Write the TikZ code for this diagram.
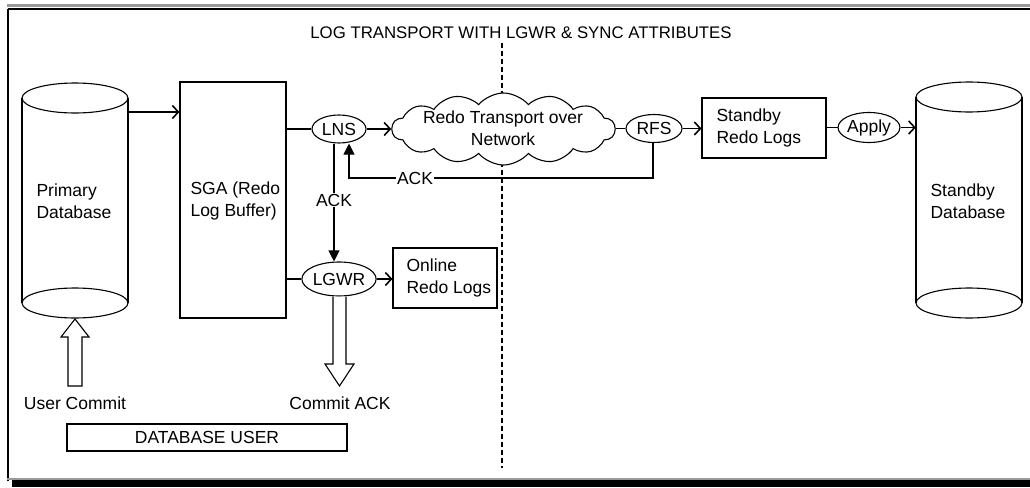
\documentclass[tikz,border=0pt]{standalone}
\usepackage{fontspec}
\setmainfont{Liberation Sans}
\usetikzlibrary{arrows.meta,shapes.geometric,shapes.symbols,calc}
\begin{document}
\begin{tikzpicture}[x=1pt,y=-1pt,
  every node/.style={font=\fontsize{17.5}{22}\selectfont},
  thin line/.style={line width=1.1pt},
  oarrow/.style={thin line,-{Straight Barb[length=6pt,width=13pt,line width=1.6pt]}},
  farrow/.style={thin line,-{Triangle[length=11pt,width=11pt]}},
  proc/.style={draw,thin line,ellipse,inner sep=0pt,fill=white},
  boxnode/.style={draw,thin line,rectangle,inner sep=0pt},
  lbl/.style={fill=white,inner sep=1pt},
  divider/.style={thin line,dash pattern=on 5pt off 3pt},
  ghost/.style={rectangle,inner sep=0pt}]
\useasboundingbox (0,0) rectangle (1030,487);
% frame
\fill[gray!80] (7,4) rectangle (1030,7);
\draw[line width=2pt] (8,9) -- (1030,9);
\draw[line width=2pt] (8,9) -- (8,481);
\fill[gray!80] (7,478) rectangle (1030,480);
\fill[black] (12,480) rectangle (1030,487);
% title
\node[font=\fontsize{16.8}{20}\selectfont] (title) at (521,33) {LOG TRANSPORT WITH LGWR \& SYNC ATTRIBUTES};
% divider (broken by the cloud)
\coordinate (divtop) at (502,43);
\coordinate (divcu) at (502,96);
\coordinate (divcl) at (502,162);
\coordinate (divbot) at (502,468);
\draw[divider] (divtop) -- (divcu);
\draw[divider] (divcl) -- (divbot);
% primary database cylinder
\node[ghost,minimum width=106pt,minimum height=205pt] (pdb) at (75,200.5) {};
\draw[thin line] (22,98) -- (22,303);
\draw[thin line] (128,98) -- (128,303);
\draw[thin line] (75,303) ellipse[x radius=53pt,y radius=15pt];
\draw[thin line] (75,98) ellipse[x radius=53pt,y radius=15pt];
\node[align=left,anchor=west] (pdbt) at (33,201) {Primary\\Database};
% standby database cylinder
\node[ghost,minimum width=106pt,minimum height=205pt] (sdb) at (969,200.5) {};
\draw[thin line] (916,97) -- (916,303);
\draw[thin line] (1022,97) -- (1022,303);
\draw[thin line] (969,303) ellipse[x radius=53pt,y radius=15pt];
\draw[thin line] (969,97) ellipse[x radius=53pt,y radius=15pt];
\node[align=left,anchor=west] (sdbt) at (927,201) {Standby\\Database};
% SGA
\node[boxnode,minimum width=106pt,minimum height=236pt] (sga) at (233,200) {};
\node[align=left,anchor=west] (sgat) at (187,201) {SGA (Redo\\Log Buffer)};
% processes
\node[proc,minimum width=54pt,minimum height=28pt] (lns) at (339,129) {LNS};
\node[draw,thin line,fill=white,cloud,cloud puffs=14,cloud puff arc=100,aspect=3.1,minimum width=223pt,minimum height=72pt,inner sep=0pt] (cloud) at (503.5,129) {};
\node[align=center] (cloudt) at (503,128) {Redo Transport over\\Network};
\node[proc,minimum width=56pt,minimum height=28pt] (rfs) at (654,128.5) {RFS};
\node[boxnode,minimum width=124pt,minimum height=60pt] (srl) at (764,128) {};
\node[align=left,anchor=west] (srlt) at (713,128) {Standby\\Redo Logs};
\node[proc,minimum width=56pt,minimum height=30pt] (apply) at (869,127.5) {Apply};
\node[proc,minimum width=72pt,minimum height=34pt] (lgwr) at (339,279) {LGWR};
\node[boxnode,minimum width=104pt,minimum height=60pt] (orl) at (445,278) {};
\node[align=left,anchor=west] (orlt) at (403,278) {Online\\Redo Logs};
% connectors
\draw[oarrow] (pdb.east |- 0,112) -- (sga.west |- 0,112);
\draw[thin line] (sga.east |- lns.west) -- (lns.west);
\draw[oarrow] (lns.east) -- (cloud.west |- lns.east);
\draw[thin line] (cloud.east |- rfs.west) -- (rfs.west);
\draw[oarrow] (rfs.east) -- (srl.west |- rfs.east);
\draw[thin line] (srl.east |- apply.west) -- (apply.west);
\draw[oarrow] (apply.east) -- (sdb.west |- apply.east);
\draw[thin line] (sga.east |- lgwr.west) -- (lgwr.west);
\draw[oarrow] (lgwr.east) -- (orl.west |- lgwr.east);
% ACK back from RFS
\coordinate (ackc1) at (653,178);
\coordinate (ackc2) at (349,178);
\draw[farrow] (rfs.south -| ackc1) -- (ackc1) -- (ackc2) -- (lns.south -| ackc2);
\node[lbl] (ack1) at (415,178) {ACK};
% ACK LNS -> LGWR
\coordinate (ackv) at (334,0);
\draw[farrow] (lns.south -| ackv) -- (lgwr.north -| ackv);
\node[lbl] (ack2) at (334,200) {ACK};
% Commit ACK fat arrow
\draw[thin line,fill=white] (lgwr.south -| 333,0) -- (333,364) -- (325,364) -- (339.5,386) -- (354,364) -- (346,364) -- (lgwr.south -| 346,0);
\node (cack) at (340,403) {Commit ACK};
% User Commit fat arrow
\draw[thin line,fill=white] (68,386) -- (68,337) -- (61,337) -- (75,319) -- (89,337) -- (82,337) -- (82,386) -- cycle;
\node (ucom) at (75,403) {User Commit};
% database user
\node[boxnode,minimum width=280pt,minimum height=27pt] (dbu) at (207,437.5) {DATABASE USER};
\end{tikzpicture}
\end{document}
